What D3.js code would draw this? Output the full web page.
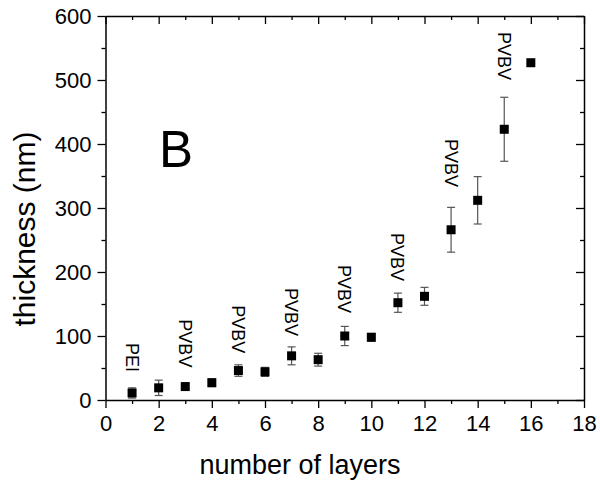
<!DOCTYPE html>
<html>
<head>
<meta charset="utf-8">
<script src="https://cdn.jsdelivr.net/npm/d3@7"></script>
<style>
  body { margin: 0; background: #fff; }
  text { font-family: "Liberation Sans", Arial, sans-serif; fill: #000; }
</style>
</head>
<body>
<div id="chart"></div>
<script>
// data
const layers = [1, 2, 3, 4, 5, 6, 7, 8, 9, 10, 11, 12, 13, 14, 15, 16];
const thickness = [11, 19, 21, 27, 46, 44, 69, 63, 100, 98, 152, 162, 266, 312, 423, 527];
const errors = [8, 12, 4, 6, 9, 7, 14, 10, 15, 6, 15, 14, 35, 37, 50, 0];

// layer annotations (x = layer, top = where the text starts, in nm)
const noteLayers = [1, 3, 5, 7, 9, 11, 13, 15];
const noteTexts = ["PEI", "PVBV", "PVBV", "PVBV", "PVBV", "PVBV", "PVBV", "PVBV"];
const noteTops = [89, 126, 148, 175, 211, 261, 408, 575];

const xTicks = [0, 2, 4, 6, 8, 10, 12, 14, 16, 18];
const yTicks = [0, 100, 200, 300, 400, 500, 600];

const width = 600, height = 490;
const margin = { top: 16, right: 16, bottom: 90, left: 105.5 };

const svg = d3.select('#chart')
  .append('svg')
  .attr('width', width)
  .attr('height', height);

const x = d3.scaleLinear().domain([0, 18]).range([margin.left, width - margin.right]);
const y = d3.scaleLinear().domain([0, 600]).range([height - margin.bottom, margin.top]);

const points = layers.map((l, i) => ({ l: l, t: thickness[i], e: errors[i] }));

// axes, major + minor ticks
function styleAxis(g) {
  g.selectAll('path').attr('stroke', '#000').attr('stroke-width', 1.5);
  g.selectAll('line').attr('stroke', '#000').attr('stroke-width', 1.3);
}
const xMinor = d3.range(1, 18, 2);
const yMinor = d3.range(50, 600, 100);

const bottomAx = svg.append('g').attr('transform', `translate(0,${y(0)})`);
bottomAx.call(d3.axisBottom(x).tickValues(xTicks).tickSize(8).tickPadding(7).tickSizeOuter(0))
  .call(styleAxis);
bottomAx.selectAll('text').style('font-size', '22px');
bottomAx.append('g').call(d3.axisBottom(x).tickValues(xMinor).tickSize(4).tickFormat('').tickSizeOuter(0))
  .call(styleAxis).select('path').remove();

const leftAx = svg.append('g').attr('transform', `translate(${x(0)},0)`);
leftAx.call(d3.axisLeft(y).tickValues(yTicks).tickSize(8).tickPadding(6).tickSizeOuter(0))
  .call(styleAxis);
leftAx.selectAll('text').style('font-size', '22px');
leftAx.append('g').call(d3.axisLeft(y).tickValues(yMinor).tickSize(4).tickFormat('').tickSizeOuter(0))
  .call(styleAxis).select('path').remove();

const topAx = svg.append('g').attr('transform', `translate(0,${y(600)})`);
topAx.call(d3.axisBottom(x).tickValues(xTicks).tickSize(8).tickFormat('').tickSizeOuter(0)).call(styleAxis);
topAx.append('g').call(d3.axisBottom(x).tickValues(xMinor).tickSize(4).tickFormat('').tickSizeOuter(0))
  .call(styleAxis).select('path').remove();

const rightAx = svg.append('g').attr('transform', `translate(${x(18)},0)`);
rightAx.call(d3.axisLeft(y).tickValues(yTicks).tickSize(8).tickFormat('').tickSizeOuter(0)).call(styleAxis);
rightAx.append('g').call(d3.axisLeft(y).tickValues(yMinor).tickSize(4).tickFormat('').tickSizeOuter(0))
  .call(styleAxis).select('path').remove();

// error bars
const bars = svg.append('g').attr('stroke', '#555').attr('stroke-width', 1.2);
const withErr = points.filter(d => d.e > 0);
bars.selectAll('line.v').data(withErr).enter().append('line')
  .attr('x1', d => x(d.l)).attr('x2', d => x(d.l))
  .attr('y1', d => y(d.t - d.e)).attr('y2', d => y(d.t + d.e));
bars.selectAll('line.top').data(withErr).enter().append('line')
  .attr('x1', d => x(d.l) - 4).attr('x2', d => x(d.l) + 4)
  .attr('y1', d => y(d.t + d.e)).attr('y2', d => y(d.t + d.e));
bars.selectAll('line.bot').data(withErr).enter().append('line')
  .attr('x1', d => x(d.l) - 4).attr('x2', d => x(d.l) + 4)
  .attr('y1', d => y(d.t - d.e)).attr('y2', d => y(d.t - d.e));

// square markers
const s = 9;
svg.selectAll('rect.pt').data(points).enter().append('rect')
  .attr('x', d => x(d.l) - s / 2)
  .attr('y', d => y(d.t) - s / 2)
  .attr('width', s).attr('height', s)
  .attr('fill', '#000');

// vertical annotations
svg.selectAll('text.note').data(noteLayers).enter().append('text')
  .attr('transform', (d, i) => `translate(${x(d) - 6.5},${y(noteTops[i])}) rotate(90)`)
  .style('font-size', '18px')
  .text((d, i) => noteTexts[i]);

// panel letter
svg.append('text')
  .attr('x', 159).attr('y', 167)
  .style('font-size', '51px')
  .text('B');

// axis titles
svg.append('text')
  .attr('x', 300).attr('y', 474)
  .attr('text-anchor', 'middle')
  .style('font-size', '27px')
  .text('number of layers');

svg.append('text')
  .attr('transform', `translate(35,${(y(0) + y(600)) / 2 + 21}) rotate(-90)`)
  .attr('text-anchor', 'middle')
  .style('font-size', '30px')
  .text('thickness (nm)');
</script>
</body>
</html>
